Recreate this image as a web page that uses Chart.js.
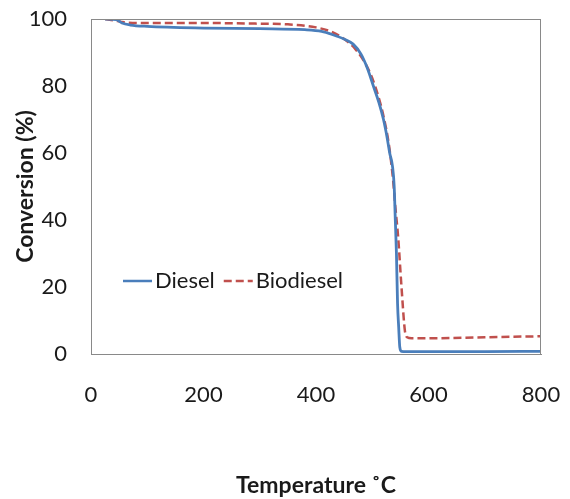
<!DOCTYPE html>
<html>
<head>
<meta charset="utf-8">
<script src="https://cdn.jsdelivr.net/npm/chart.js@4"></script>
<style>
  html, body { margin: 0; padding: 0; background: #fff; }
  #wrap { width: 570px; height: 499px; }
</style>
</head>
<body>
<div id="wrap"><canvas id="chart" width="570" height="499"></canvas></div>
<script>
// temperature (°C) / conversion (%)
const dieselT = [25, 45, 55, 70, 100, 200, 300, 380, 410, 430, 450, 466, 480, 492, 502, 512, 520, 526, 531, 536, 539, 541, 543, 545, 547, 549, 552, 560, 700, 800];
const dieselY = [100, 99.8, 98.8, 98.2, 97.8, 97.3, 97.1, 96.8, 96.3, 95.3, 94, 92.5, 89.5, 85, 80, 75, 70, 65, 60, 56, 50, 40, 30, 15, 8, 2, 0.8, 0.7, 0.7, 0.8];
const bioT = [25, 40, 60, 100, 200, 300, 350, 400, 430, 450, 470, 490, 505, 520, 530, 537, 541, 546, 552, 558, 562, 570, 600, 700, 800];
const bioY = [100, 99.6, 99, 98.8, 98.8, 98.6, 98.4, 97.5, 96, 94, 91, 86, 80, 71, 62, 52, 44, 35, 20, 7, 5, 4.7, 4.7, 5, 5.3];
const seriesNames = ['Diesel', 'Biodiesel'];
const xTicks = [0, 200, 400, 600, 800];
const yTicks = [0, 20, 40, 60, 80, 100];

const BLUE = '#4a7ebb';
const RED = '#c0504d';
const FONT = 'Lato, "Open Sans", sans-serif';

function toPoints(xs, ys){ return xs.map((x, i) => ({x: x, y: ys[i]})); }

// box round the plot plus the legend inside it
const boxAndLegend = {
  id: 'boxAndLegend',
  afterDraw(chart){
    const c = chart.ctx, a = chart.chartArea;
    c.save();
    c.strokeStyle = '#898989';
    c.lineWidth = 1;
    c.strokeRect(a.left + 0.5, a.top + 0.5, a.right - a.left - 1, a.bottom - a.top);

    const ly = 281;
    let lx = 123;
    c.font = '22px ' + FONT;
    c.textBaseline = 'middle';
    c.fillStyle = '#1a1a1a';
    chart.data.datasets.forEach(ds => {
      c.beginPath();
      c.strokeStyle = ds.borderColor;
      c.lineWidth = 2.5;
      c.setLineDash(ds.borderDash || []);
      c.moveTo(lx, ly);
      c.lineTo(lx + 29, ly);
      c.stroke();
      c.setLineDash([]);
      c.fillText(ds.label, lx + 32, ly);
      lx += 32 + c.measureText(ds.label).width + 9;
    });
    c.restore();
  }
};

new Chart(document.getElementById('chart'), {
  type: 'scatter',
  data: {
    datasets: [
      { label: seriesNames[0], data: toPoints(dieselT, dieselY), showLine: true, borderColor: BLUE, borderWidth: 2.8, pointRadius: 0, cubicInterpolationMode: 'monotone' },
      { label: seriesNames[1], data: toPoints(bioT, bioY), showLine: true, borderColor: RED, borderWidth: 2.5, borderDash: [8, 4], pointRadius: 0, cubicInterpolationMode: 'monotone' }
    ]
  },
  options: {
    responsive: false,
    animation: false,
    layout: { padding: 0 },
    plugins: { legend: { display: false }, tooltip: { enabled: false } },
    scales: {
      x: {
        type: 'linear', min: 0, max: 800,
        afterBuildTicks: s => { s.ticks = xTicks.map(v => ({value: v})); },
        afterFit: s => { s.height = 145; s.paddingLeft = 0; s.paddingRight = 29; },
        grid: { display: false, drawTicks: false },
        border: { color: '#898989' },
        ticks: { padding: 28, color: '#1a1a1a', font: { family: FONT, size: 22 } },
        title: { display: true, text: 'Temperature ˚C', color: '#1a1a1a', font: { family: FONT, size: 23, weight: 'bold' }, padding: { top: 0, bottom: 0 } }
      },
      y: {
        type: 'linear', min: 0, max: 100,
        afterBuildTicks: s => { s.ticks = yTicks.map(v => ({value: v})); },
        afterFit: s => { s.width = 91; s.paddingTop = 19; s.paddingBottom = 0; },
        grid: { display: false, drawTicks: false },
        border: { color: '#898989' },
        ticks: { padding: 24, color: '#1a1a1a', font: { family: FONT, size: 22 } },
        title: { display: true, text: 'Conversion (%)', color: '#1a1a1a', font: { family: FONT, size: 23, weight: 'bold' }, padding: { top: 12, bottom: 0 } }
      }
    }
  },
  plugins: [boxAndLegend]
});
</script>
</body>
</html>
